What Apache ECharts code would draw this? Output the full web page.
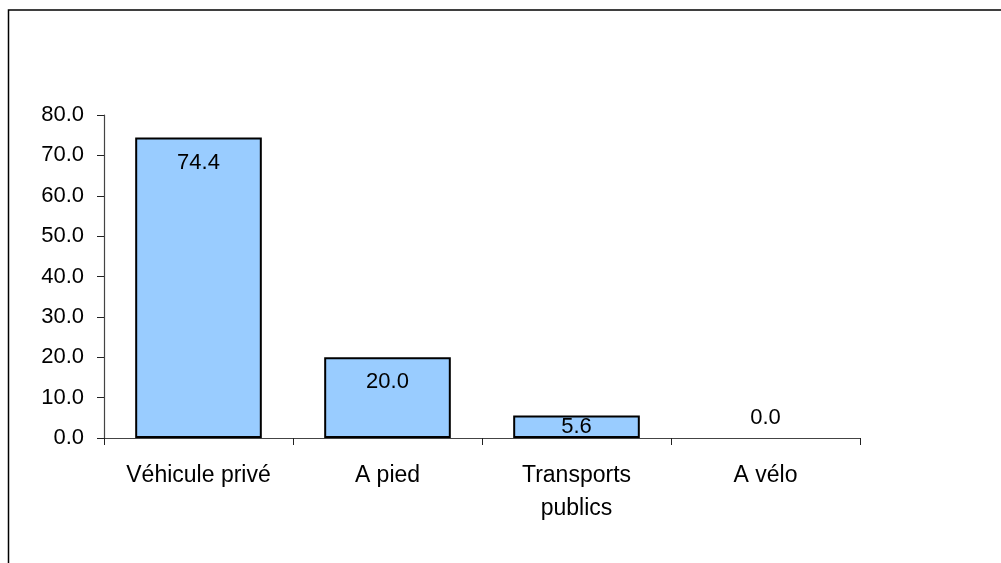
<!DOCTYPE html>
<html>
<head>
<meta charset="utf-8">
<script src="https://cdn.jsdelivr.net/npm/echarts@6/dist/echarts.min.js"></script>
<style>
  html, body { margin: 0; padding: 0; background: #fff; }
  #chart { width: 1001px; height: 563px; }
</style>
</head>
<body>
<div id="chart"></div>
<script>
// Mode de déplacement (%)
const categories = ['Véhicule privé', 'A pied', 'Transports\npublics', 'A vélo'];
const values = [74.4, 20.0, 5.6, 0.0];
const yTicks = { min: 0, max: 80, interval: 10 };

const FONT = '"Liberation Sans", Arial, sans-serif';

const seriesData = values.map(function (v) {
  const item = { value: v };
  if (v === 0) {
    item.label = { position: 'top', distance: 9 };
    item.itemStyle = { borderWidth: 0 };
  } else if (v < 8) {
    item.label = { position: 'inside' };
  }
  return item;
});

const chart = echarts.init(document.getElementById('chart'), null, { renderer: 'canvas' });
chart.setOption({
  animation: false,
  backgroundColor: '#ffffff',
  grid: { left: 104, right: 141, top: 115, bottom: 125 },
  graphic: [{
    type: 'polyline',
    shape: { points: [[8.5, 563], [8.5, 10], [1001, 10]] },
    style: { stroke: '#000', lineWidth: 1.5, fill: null },
    silent: true
  }],
  xAxis: {
    type: 'category',
    data: categories,
    boundaryGap: true,
    axisLine: { show: true, lineStyle: { color: '#444', width: 1.2 } },
    axisTick: { show: true, inside: false, length: 7, alignWithLabel: false, lineStyle: { color: '#222' } },
    axisLabel: {
      color: '#000', fontFamily: FONT, fontSize: 23, margin: 21,
      lineHeight: 33, interval: 0
    },
    splitLine: { show: false }
  },
  yAxis: {
    type: 'value',
    min: yTicks.min,
    max: yTicks.max,
    interval: yTicks.interval,
    axisLine: { show: true, lineStyle: { color: '#444', width: 1.2 } },
    axisTick: { show: true, inside: false, length: 7, lineStyle: { color: '#222' } },
    axisLabel: {
      color: '#000', fontFamily: FONT, fontSize: 22, margin: 20,
      formatter: function (v) { return v.toFixed(1); }
    },
    splitLine: { show: false }
  },
  series: [{
    type: 'bar',
    data: seriesData,
    barCategoryGap: '33%',
    itemStyle: { color: '#99CCFF', borderColor: '#000', borderWidth: 2 },
    label: {
      show: true,
      position: 'insideTop',
      distance: 14,
      color: '#000',
      fontFamily: FONT,
      fontSize: 22,
      formatter: function (p) { return p.value.toFixed(1); }
    }
  }]
});
</script>
</body>
</html>
